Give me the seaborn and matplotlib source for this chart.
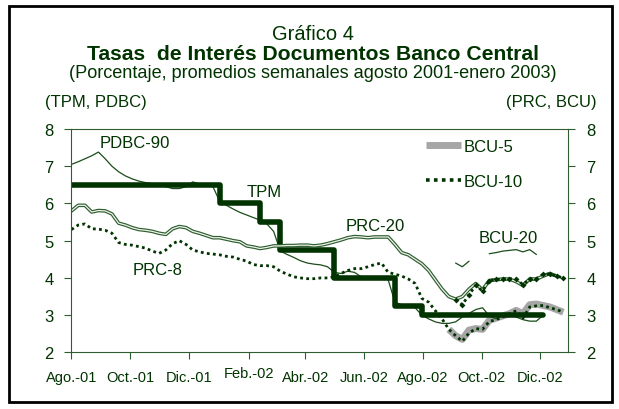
import numpy as np
import pandas as pd
import seaborn as sns
import matplotlib.pyplot as plt
from matplotlib.lines import Line2D
from matplotlib.patches import Rectangle

# weekly averages, Aug 2001 - Dec 2002
semanas = pd.date_range("2001-08-01", periods=74, freq="7D")

pdbc90 = [7.05, 7.12, 7.2, 7.28, 7.38, 7.2, 7.0, 6.85, 6.74, 6.66,
          6.6, 6.56, 6.53, 6.5, 6.45, 6.4, 6.4, 6.45, 6.58, 6.52,
          6.5, 6.45, 6.05, 5.95, 5.85, 5.76, 5.69, 5.62, 5.55, 5.45,
          5.25, 4.72, 4.63, 4.55, 4.46, 4.4, 4.37, 4.35, 4.3, 4.15,
          4.12, 4.18, 4.15, 4.03, 4.0, 4.02, 4.0, 3.95, 3.35, 3.28,
          3.27, 3.2, 3.0, 2.9, 2.82, 2.78, 2.78, 2.82, 2.95, 3.05,
          3.15, 3.2, 2.98, 2.9, 3.0, 3.02, 2.95, 2.88, 2.84, 2.84,
          3.0] + [np.nan] * 3

tpm = [6.5] * 22 + [6.0] * 6 + [5.5] * 3 + [4.75] * 8 + [4.0] * 9 + \
      [3.25] * 4 + [3.0] * 19 + [np.nan] * 3

prc20 = [5.8, 5.95, 5.95, 5.77, 5.81, 5.8, 5.72, 5.47, 5.42, 5.35,
         5.3, 5.28, 5.25, 5.2, 5.17, 5.32, 5.38, 5.35, 5.25, 5.2,
         5.14, 5.08, 5.08, 5.04, 5.0, 4.97, 4.86, 4.83, 4.79, 4.82,
         4.86, 4.86, 4.87, 4.87, 4.88, 4.88, 4.86, 4.88, 4.92, 4.97,
         5.02, 5.08, 5.11, 5.1, 5.08, 5.1, 5.1, 5.1, 4.9, 4.68,
         4.62, 4.5, 4.38, 4.2, 3.95, 3.7, 3.5, 3.43, 3.5, 3.7,
         3.85, 3.68, 3.93, 3.95, 3.97, 3.97, 3.9, 3.8, 3.97, 3.97,
         4.05, 4.12, 4.05, np.nan]

prc8 = [5.3, 5.42, 5.45, 5.32, 5.31, 5.28, 5.2, 4.95, 4.9, 4.88,
        4.84, 4.8, 4.72, 4.66, 4.75, 4.92, 5.0, 4.9, 4.75, 4.7,
        4.66, 4.64, 4.62, 4.58, 4.56, 4.5, 4.45, 4.36, 4.33, 4.33,
        4.3, 4.18, 4.1, 4.03, 4.0, 3.98, 3.98, 4.0, 4.0, 4.03,
        4.12, 4.2, 4.25, 4.25, 4.3, 4.36, 4.4, 4.15, 4.1, 4.05,
        3.97, 3.85, 3.45, 3.35, 3.12, 2.9, 2.62, 2.45, 2.3, 2.52,
        2.64, 2.62, 2.83, 2.88, 2.95, 3.04, 3.12, 2.92, 3.22, 3.25,
        3.26, 3.2, 3.15, 3.08]

bcu5 = [np.nan] * 56 + [2.62, 2.45, 2.35, 2.6, 2.64, 2.62, 2.86, 2.92, 2.98,
                        3.04, 3.13, 3.04, 3.28, 3.3, 3.26, 3.22, 3.15, 3.08]

bcu10 = [np.nan] * 57 + [3.42, 3.28, 3.55, 3.8, 3.65, 3.93, 3.96, 3.97, 3.98,
                         3.97, 3.82, 3.97, 3.98, 4.1, 4.1, 4.05, 4.0]

bcu20 = [np.nan] * 57 + [4.4, 4.3, 4.45, np.nan, np.nan, 4.65, 4.68, 4.72,
                         4.74, 4.76, 4.7, 4.76, 4.63] + [np.nan] * 4

tick_fechas = ["2001-08-01", "2001-10-01", "2001-12-01", "2002-02-01", "2002-04-01",
               "2002-06-01", "2002-08-01", "2002-10-01", "2002-12-01"]
tick_labels = ["Ago.-01", "Oct.-01", "Dic.-01", "Feb.-02", "Abr.-02",
               "Jun.-02", "Ago.-02", "Oct.-02", "Dic.-02"]

verde = "#003300"
verde2 = "#2e5e2e"

sns.set_style("white")
plt.rcParams["font.family"] = ["Liberation Sans", "DejaVu Sans"]

fig = plt.figure(figsize=(6.19, 4.10), dpi=100)
ax = fig.add_axes([0.1155, 0.138, 0.8024, 0.545])


def draw(values, **kw):
    df = pd.DataFrame({"fecha": semanas, "tasa": values})
    tramos = df["tasa"].isna().cumsum()
    for _, seg in df.dropna().groupby(tramos):
        sns.lineplot(data=seg, x="fecha", y="tasa", ax=ax, legend=False,
                     estimator=None, errorbar=None, **kw)


draw(bcu5, color="#a6a6a6", linewidth=5, solid_capstyle="butt")
draw(pdbc90, color="#1a4d1a", linewidth=0.9)
draw(bcu20, color="#1a4d1a", linewidth=0.9)
draw(tpm, color=verde, linewidth=4, drawstyle="steps-post")
# PRC-20 drawn as a double line
draw(prc20, color=verde2, linewidth=2.6)
draw(prc20, color="#eef2ee", linewidth=0.9)
draw(prc8, color=verde, linewidth=2.0, linestyle=(0, (1, 1.2)))
draw(bcu10, color=verde, linewidth=2.0, linestyle=(0, (1, 1.2)),
     marker="D", markersize=3, markeredgewidth=0)

ax.set_xlim(pd.Timestamp("2001-08-01"), pd.Timestamp("2002-12-30"))
ax.set_ylim(2, 8)
ax.set_yticks(range(2, 9))
ax.set_xticks(pd.to_datetime(tick_fechas))
ax.set_xticklabels(tick_labels)
ax.set_xlabel("")
ax.set_ylabel("")
# "Feb.-02" sits a little higher than the others in the original
ax.get_xticklabels()[3].set_y(0.02)

for s in ax.spines.values():
    s.set_color(verde2)
    s.set_linewidth(0.8)
ax.tick_params(axis="y", direction="out", length=5, width=0.8, color=verde2,
               labelcolor=verde, labelsize=12, pad=8,
               left=True, right=True, labelleft=True, labelright=True)
ax.tick_params(axis="x", direction="out", length=5, width=0.8, color=verde2,
               labelcolor=verde, labelsize=10.5, pad=8, bottom=True)

# series labels
ax.text(0.057, 0.938, "PDBC-90", transform=ax.transAxes, fontsize=12, color=verde, va="center")
ax.text(0.353, 0.72, "TPM", transform=ax.transAxes, fontsize=12, color=verde, va="center")
ax.text(0.124, 0.369, "PRC-8", transform=ax.transAxes, fontsize=12, color=verde, va="center")
ax.text(0.551, 0.569, "PRC-20", transform=ax.transAxes, fontsize=12, color=verde, va="center")
ax.text(0.819, 0.516, "BCU-20", transform=ax.transAxes, fontsize=12, color=verde, va="center")

handles = [Line2D([], [], color="#a6a6a6", linewidth=5, solid_capstyle="butt"),
           Line2D([], [], color=verde, linewidth=2.6, linestyle=(0, (1, 1.2)))]
leg = ax.legend(handles, ["BCU-5", "BCU-10"], loc="upper left", bbox_to_anchor=(0.713, 0.955),
                frameon=False, fontsize=12, handlelength=2.1, handletextpad=0.2,
                labelspacing=1.2, borderpad=0, borderaxespad=0)
for t in leg.get_texts():
    t.set_color(verde)

fig.text(0.506, 1 - 35 / 410, "Gráfico 4", ha="center", va="center", fontsize=14.5, color=verde)
fig.text(0.506, 1 - 54 / 410, "Tasas  de Interés Documentos Banco Central", ha="center",
         va="center", fontsize=15.2, fontweight="bold", color=verde)
fig.text(0.506, 1 - 74 / 410, "(Porcentaje, promedios semanales agosto 2001-enero 2003)",
         ha="center", va="center", fontsize=13.1, color=verde)
fig.text(45 / 619, 1 - 103 / 410, "(TPM, PDBC)", ha="left", va="center", fontsize=12, color=verde)
fig.text(597 / 619, 1 - 103 / 410, "(PRC, BCU)", ha="right", va="center", fontsize=12, color=verde)

fig.add_artist(Rectangle((9 / 619, 7 / 410), 603 / 619, 396 / 410, transform=fig.transFigure,
                         fill=False, edgecolor="black", linewidth=2))

fig.savefig("out.png", dpi=100)
